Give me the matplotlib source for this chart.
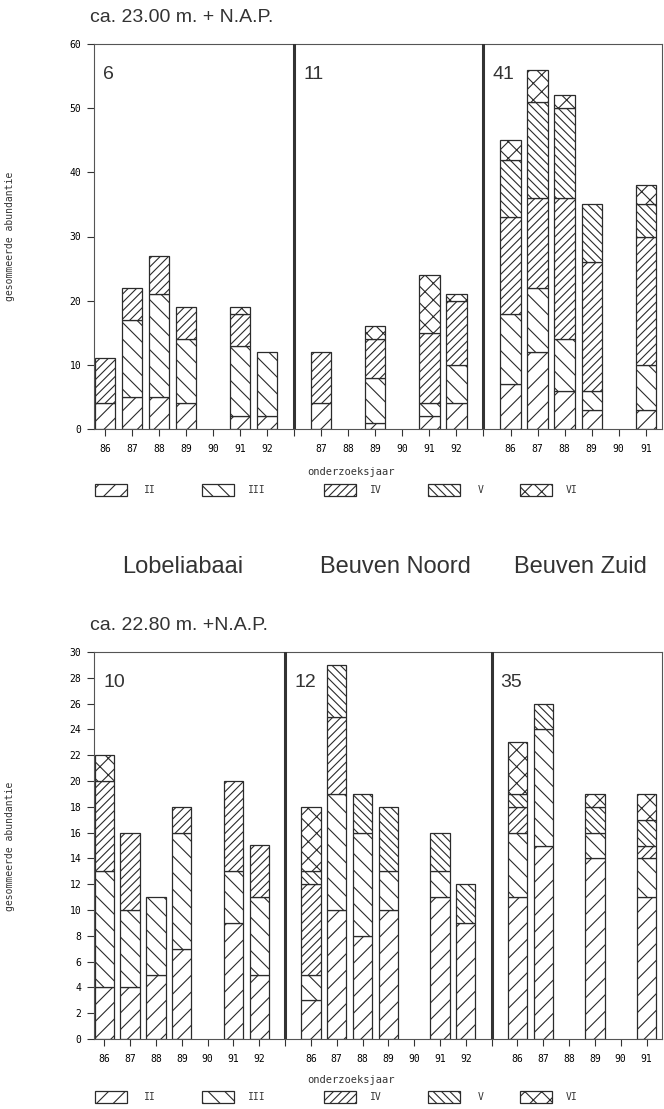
import numpy as np
import matplotlib
matplotlib.use('Agg')
import matplotlib.pyplot as plt
from matplotlib.patches import Rectangle

# age classes and the hatch used for each one
classes = ['II', 'III', 'IV', 'V', 'VI']
hatches = ['//', '\\\\', '////', '\\\\\\\\', 'xx']

sites = ['Lobeliabaai', 'Beuven Noord', 'Beuven Zuid']

# ca. 23.00 m + NAP
top_title = 'ca. 23.00 m. + N.A.P.'
top_numbers = ['6', '11', '41']
top_years = [[86, 87, 88, 89, 90, 91, 92],
             [87, 88, 89, 90, 91, 92],
             [86, 87, 88, 89, 90, 91]]
# rows: II, III, IV, V, VI
top_lobelia = [[4, 5, 5, 4, 0, 2, 2],
               [0, 12, 16, 10, 0, 11, 10],
               [7, 5, 6, 5, 0, 5, 0],
               [0, 0, 0, 0, 0, 0, 0],
               [0, 0, 0, 0, 0, 1, 0]]
top_noord = [[4, 0, 1, 0, 2, 4],
             [0, 0, 7, 0, 2, 6],
             [8, 0, 6, 0, 11, 10],
             [0, 0, 0, 0, 0, 0],
             [0, 0, 2, 0, 9, 1]]
top_zuid = [[7, 12, 6, 3, 0, 3],
            [11, 10, 8, 3, 0, 7],
            [15, 14, 22, 20, 0, 20],
            [9, 15, 14, 9, 0, 5],
            [3, 5, 2, 0, 0, 3]]

# ca. 22.80 m + NAP
bot_title = 'ca. 22.80 m. +N.A.P.'
bot_numbers = ['10', '12', '35']
bot_years = [[86, 87, 88, 89, 90, 91, 92],
             [86, 87, 88, 89, 90, 91, 92],
             [86, 87, 88, 89, 90, 91]]
bot_lobelia = [[4, 4, 5, 7, 0, 9, 5],
               [9, 6, 6, 9, 0, 4, 6],
               [7, 6, 0, 2, 0, 7, 4],
               [0, 0, 0, 0, 0, 0, 0],
               [2, 0, 0, 0, 0, 0, 0]]
bot_noord = [[3, 10, 8, 10, 0, 11, 9],
             [2, 9, 8, 3, 0, 2, 0],
             [7, 6, 0, 0, 0, 0, 0],
             [1, 4, 3, 5, 0, 3, 3],
             [5, 0, 0, 0, 0, 0, 0]]
bot_zuid = [[11, 15, 0, 14, 0, 11],
            [5, 9, 0, 2, 0, 3],
            [2, 0, 0, 0, 0, 1],
            [1, 2, 0, 2, 0, 2],
            [4, 0, 0, 1, 0, 2]]

LINE = '#2b2b2b'
MONO = 'DejaVu Sans Mono'
SANS = 'Liberation Sans'

plt.rcParams['hatch.linewidth'] = 0.8
plt.rcParams['hatch.color'] = LINE
plt.rcParams['axes.edgecolor'] = '#555555'
plt.rcParams['axes.linewidth'] = 0.8

W, H = 664, 1109


def fx(px):
    return px / W


def fy(py):
    return 1 - py / H


def draw(ax, years, panels, numbers, ymax, ystep):
    pos = 0
    ticks, labels, seps = [], [], []
    for p, (yrs, vals) in enumerate(zip(years, panels)):
        if p > 0:
            seps.append(pos)
            ticks.append(pos)
            labels.append('')
            pos += 1
        x = np.arange(pos, pos + len(yrs))
        bottom = np.zeros(len(yrs))
        for c, h in enumerate(hatches):
            v = np.array(vals[c], dtype=float)
            m = v > 0
            ax.bar(x[m], v[m], 0.75, bottom=bottom[m], color='white',
                   edgecolor=LINE, hatch=h, linewidth=0.9)
            bottom += v
        ticks += list(x)
        labels += [str(y) for y in yrs]
        pos += len(yrs)

    for s in seps:
        ax.axvline(s, color='#333333', lw=2.2, zorder=3)

    ax.set_xlim(-0.4, pos - 1 + 0.6)
    ax.set_ylim(0, ymax)
    ax.set_xticks(ticks)
    ax.set_xticklabels(labels, family=MONO, fontsize=7)
    ax.set_yticks(np.arange(0, ymax + 1, ystep))
    ax.set_yticklabels([str(v) for v in range(0, ymax + 1, ystep)],
                       family=MONO, fontsize=7)
    ax.tick_params(axis='x', length=5, pad=6, color='#333333')
    ax.tick_params(axis='y', length=5, pad=4, color='#333333')

    lefts = [-0.4] + seps
    for lb, num in zip(lefts, numbers):
        ax.text(lb + 0.35, 0.92 * ymax, num, ha='left', va='center',
                fontsize=14, family=SANS, color='#333333')


def legend_row(ypx):
    box_x = [95, 202, 324, 428, 520]
    lab_x = [144, 248, 370, 478, 566]
    for bx, lx, h, name in zip(box_x, lab_x, hatches, classes):
        r = Rectangle((fx(bx), fy(ypx + 6)), fx(32), 12 / H,
                      transform=fig.transFigure, facecolor='white',
                      edgecolor=LINE, hatch=h, linewidth=0.9)
        fig.add_artist(r)
        fig.text(fx(lx), fy(ypx), name, ha='left', va='center',
                 family=MONO, fontsize=7, color='#333333')


fig = plt.figure(figsize=(W / 100, H / 100), dpi=100)

ax1 = fig.add_axes([fx(94), fy(429), fx(568), 385 / H])
draw(ax1, top_years, [top_lobelia, top_noord, top_zuid], top_numbers, 60, 10)

ax2 = fig.add_axes([fx(94), fy(1039), fx(568), 387 / H])
draw(ax2, bot_years, [bot_lobelia, bot_noord, bot_zuid], bot_numbers, 30, 2)

for title, ypx in [(top_title, 18), (bot_title, 625)]:
    fig.text(fx(90), fy(ypx), title, ha='left', va='center', fontsize=14,
             family=SANS, color='#333333')

for ypx in [236, 846]:
    fig.text(fx(10), fy(ypx), 'gesommeerde abundantie', rotation=90,
             ha='center', va='center', family=MONO, fontsize=7,
             color='#333333')

for ypx in [472, 1080]:
    fig.text(fx(351), fy(ypx), 'onderzoeksjaar', ha='center', va='center',
             family=MONO, fontsize=7.5, color='#333333')

legend_row(490)
legend_row(1097)

for name, cx in zip(sites, [183, 395, 580]):
    fig.text(fx(cx), fy(567), name, ha='center', va='center', fontsize=17,
             family=SANS, color='#333333')

fig.savefig('out.png', dpi=100, facecolor='white')
